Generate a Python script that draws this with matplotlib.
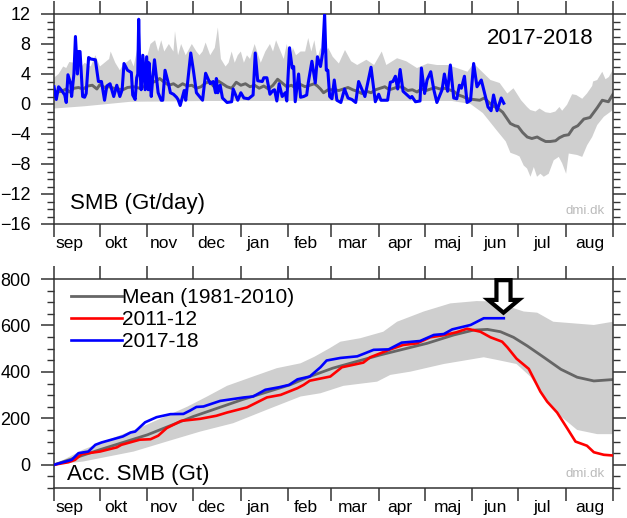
#!/usr/bin/env python3
"""Greenland surface mass balance, season 2017-18 (daily and accumulated)."""

import numpy as np
import matplotlib
matplotlib.use("Agg")
import matplotlib.pyplot as plt
from matplotlib.patches import Polygon
from matplotlib.ticker import MultipleLocator

plt.rcParams["font.family"] = ["Liberation Sans", "DejaVu Sans"]

MONTH_TICKS = [0, 30, 61, 91, 122, 153, 181, 212, 242, 273, 303, 334, 365]
MONTHS = ["sep", "okt", "nov", "dec", "jan", "feb", "mar", "apr", "maj", "jun", "jul", "aug"]

# --- daily SMB, values (day since 1 sep, Gt/day)
daily_blue_x = [0, 1.5, 3, 5, 7, 8, 9.1, 11, 11.5, 13, 14, 15.3, 16, 17, 18.7, 20, 21, 22.6, 24, 27, 29, 31, 33,
                34.5, 36.6, 39, 41, 43, 44.5, 45.7, 48, 50.5, 51.4, 53, 54, 54.7, 55.3, 56, 56.9, 58, 59.5, 60.5,
                61.5, 62, 63.5, 64.5, 65.6, 68, 70, 71, 72.5, 75, 76, 78, 80, 81, 82.4, 84, 85, 86, 89.3, 91,
                93, 95, 97, 99, 102, 104, 105.5, 106, 107, 108.5, 110, 113, 116, 117, 120, 122, 124, 127, 130,
                131.4, 133, 136, 137, 138, 139, 141, 143, 144, 145.5, 147, 149, 151, 152, 153.8, 155.5, 156.5,
                157.5, 159.7, 161, 163, 165, 166, 168.4, 170.6, 172, 174, 175.4, 176.7, 177.8, 178.8, 180, 181.5,
                183, 184.7, 187.3, 189.7, 192, 194.5, 197, 198.9, 203, 207, 209.8, 212, 213.5, 217.8, 219.6,
                221.3, 222.9, 224.4, 226, 227.9, 232.7, 233.7, 236, 239, 239.9, 242, 243.6, 246, 248, 250, 253.4,
                254.9, 257, 258.8, 261, 263, 264.7, 266, 268, 269.7, 272, 274, 276.2, 279, 280.6, 283.4, 285.4,
                287, 289.3, 292, 293.7]
daily_blue_y = [2.3, 0.6, 2.3, 1.8, 1.2, 0.2, 3.9, 2.6, 1.0, 4.0, 9.0, 4.0, 7.0, 7.0, 1.0, 0.9, 1.4, 6.2, 6.0, 5.9, 3.0, 3.0, 0.5,
                2.4, 2.7, 1.0, 2.5, 1.0, 1.9, 5.4, 4.5, 4.2, 1.2, 0.6, 3.5, 4.0, 11.3, 5.0, 1.9, 6.5, 1.9, 6.3,
                1.9, 5.5, 1.0, 3.5, 5.9, 1.5, 0.5, 0.5, 4.5, 2.5, 1.5, 1.3, 0.9, 0.6, -0.2, 1.0, 1.8, 0.5, 6.8, 4.5,
                1.5, 1.0, 0.5, 4.1, 2.7, 3.0, 1.5, 3.4, 1.5, 2.5, 0.8, 0.2, 0.3, 2.0, 0.5, 1.5, 0.8, 0.7, 1.2,
                6.8, 3.1, 3.0, 3.5, 3.5, 3.5, 1.3, 1.8, 1.9, 0.4, 2.7, 1.0, 1.5, 0.4, 7.5, 4.8, 5.0,
                0.3, 4.0, 0.9, 1.0, 1.2, 2.8, 5.7, 2.8, 6.3, 5.0, 6.8, 12.0, 4.5, 4.5, 1.0, 0.7,
                3.2, 0.5, 0.2, 2.0, 0.8, 0.6, 0.2, 3.0, 1.0, 4.9, 0.3, 1.3, 0.5, 0.5, 2.9,
                3.0, 3.7, 2.0, 4.6, 1.7, 0.8, 1.0, 0.3, 0.4, 4.8, 1.4, 3.2, 4.3, 1.9, 0.2, 1.9,
                4.0, 1.7, 5.2, 0.8, 0.7, 2.5, 2.1, 3.7, 0.2, 0.5, 5.4, 2.3, 3.2, 1.9, -0.4, -0.9,
                1.2, -0.9, 0.8, 0.1]

daily_mean_x = [0, 5, 8, 10, 13, 16, 19, 22, 25, 28, 30, 33, 36, 39, 42, 45, 48, 52, 56, 60, 63, 66, 69, 72, 75, 78, 81,
                84, 87, 90, 93, 96, 99, 102, 104, 107, 110, 113, 116, 119, 122, 125, 128, 131, 134, 137, 140, 143,
                146, 149, 152, 155, 158, 161, 164, 167, 170, 172, 174, 176, 179, 183, 186, 189, 192, 195, 198, 201,
                204, 207, 210, 213, 216, 219, 222, 225, 228, 231, 234, 237, 240, 243, 246, 249, 252, 255, 258, 261,
                264, 267, 270, 274, 278, 281, 284, 287, 290, 293, 296, 298, 301, 303, 306, 309, 312, 315.5, 318,
                321, 324, 327.5, 330, 333, 336, 339, 342, 346, 350, 354.7, 358, 362, 365]
daily_mean_y = [1.5, 1.7, 2.0, 1.6, 2.1, 2.2, 2.0, 2.4, 2.5, 2.0, 2.6, 2.2, 2.3, 2.1, 2.0, 1.9, 2.2, 2.3, 2.1, 2.4, 2.8, 3.0, 3.4, 2.9, 2.5, 2.7, 2.3,
                2.7, 2.4, 2.5, 2.1, 2.3, 2.8, 3.0, 2.4, 3.1, 2.7, 2.3, 2.1, 2.9, 2.5, 2.7, 2.3, 2.5, 2.1, 2.4, 2.0, 2.5,
                3.3, 2.8, 2.3, 2.5, 2.1, 2.6, 2.3, 2.5, 2.7, 2.4, 2.0, 1.5, 1.9, 1.9, 1.8, 2.0, 2.2, 1.9, 1.7, 1.4,
                1.7, 1.5, 1.9, 2.1, 2.3, 1.9, 2.1, 2.3, 2.2, 1.8, 1.9, 1.6, 2.0, 1.8, 2.0, 2.2, 2.0, 2.1, 1.9, 1.7,
                1.2, 1.0, 0.7, 0.6, 0.5, 0.8, 0.2, -0.3, -0.6, -1.1, -2.0, -2.6, -2.9, -3.0, -3.8, -4.4, -4.6, -4.4, -4.7,
                -5.0, -5.0, -4.9, -4.5, -4.2, -4.1, -3.2, -2.9, -2.0, -1.8, -0.5, 0.5, 0.3, 1.3]

daily_upper_x = [0, 3, 6, 8, 10, 13, 15, 18, 20, 24, 27, 30, 33, 36, 37, 40, 43, 45, 47, 50, 52, 55, 58, 61, 63, 66, 68,
                 70, 72, 75, 78, 79, 81, 83, 86, 90, 93, 95, 97, 99, 102, 105, 107, 109, 112, 114, 116, 118, 120, 122,
                 124, 126, 128, 131, 135, 138, 141, 143, 145, 147, 150, 152, 154, 156, 158, 161, 164, 166, 168, 170,
                 172, 174, 176, 179, 182, 186, 190, 194, 198, 204, 209, 214, 217, 224, 230, 237, 244, 250, 257, 263,
                 270, 274, 278, 285, 291, 296, 300, 305, 308.9, 311, 314.4, 317, 320.9, 324, 327.4, 330, 331.8, 335,
                 338.3, 341, 344.9, 348, 351.4, 352, 354.7, 358, 360.1, 362.3, 365]
daily_upper_y = [3.5, 4.0, 5.0, 4.8, 5.6, 5.5, 6.0, 5.0, 5.5, 5.0, 6.5, 5.0, 5.5, 6.0, 7.0, 5.5, 4.5, 5.2, 5.5, 6.0, 5.0, 8.0, 6.0, 6.5, 8.0, 8.5, 7.0,
                 8.5, 7.0, 8.0, 7.0, 9.7, 6.5, 8.0, 6.5, 8.0, 7.0, 6.5, 7.0, 8.2, 6.5, 7.5, 10.2, 6.0, 5.0, 5.5, 7.0, 5.5, 6.5, 7.0,
                 5.5, 6.5, 6.0, 8.0, 5.5, 7.0, 8.0, 7.0, 8.5, 7.5, 6.0, 8.0, 6.0, 7.5, 6.5, 7.0, 7.0, 8.8, 7.0, 8.5,
                 6.0, 7.5, 6.3, 7.5, 6.3, 5.4, 7.2, 5.7, 5.2, 5.9, 5.2, 7.0, 5.2, 6.1, 5.7, 4.8, 5.4, 5.2, 5.2, 4.8,
                 4.3, 5.4, 4.6, 3.2, 2.8, 1.4, 2.1, 0.5, -0.4, -0.8, -1.0, -0.6, -1.1, -1.2, -1.0, -0.4, -0.9, -0.1,
                 1.3, 1.2, 0.7, 1.4, 2.4, 3.0, 3.2, 4.3, 3.3, 3.6, 4.6]
daily_lower_x = [0, 20, 50, 100, 170, 260, 272, 280, 289, 295, 298, 302, 304, 306.7, 308.9, 311.1, 313.3, 315.4, 317.6,
                 319.8, 323, 326.3, 329.6, 331.8, 334.4, 336.1, 341.6, 344.9, 348.1, 351.4, 354.7, 359, 365]
daily_lower_y = [-0.6, -0.3, 0.3, 0.4, 0.4, 0.4, 0.0, -1.2, -3.5, -5.0, -6.5, -6.8, -7.0, -8.2, -8.6, -9.7, -8.4, -9.7, -9.3,
                 -9.7, -9.3, -7.5, -7.05, -7.9, -9.3, -6.6, -6.8, -7.05, -5.5, -4.4, -2.8, -1.7, -0.8]

# --- accumulated SMB (Gt)
acc_mean_x = [0, 30, 61, 91, 122.7, 154, 167, 182, 213, 243.6, 261, 274, 283, 291.5, 300, 309, 320, 331, 341.6, 352.5, 365]
acc_mean_y = [0, 65, 129, 208, 280, 344, 380, 416, 473, 523, 559, 580, 583, 573, 549, 512, 462, 411, 377, 361, 367]

acc_red_x = [0, 9.4, 13.7, 18, 30, 41, 44, 56, 63, 68, 73.6, 80, 83, 95.5, 106, 113, 126, 139, 148, 159, 163, 167,
             180.4, 188, 202, 206.5, 219.6, 228, 237, 245.7, 254.5, 263, 269.7, 278.4, 285, 292.6, 296, 302, 310,
             317.6, 322, 328.5, 335, 340.5, 348, 352.5, 359, 365]
acc_red_y = [0, 11, 21, 46, 57, 75, 86, 108, 110, 125, 158, 179, 189, 198, 211, 225, 247, 290, 301, 330, 344, 362,
             380, 420, 440, 463, 497, 516, 523, 549, 558, 571, 586, 573, 549, 530, 506, 457, 413,
             315, 272, 225, 158, 100, 82, 54, 43, 40]

acc_blue_x = [0, 11.5, 16, 22.4, 27, 31, 45, 50, 53, 59.5, 67, 76, 84.5, 89, 93, 97.6, 108.5, 124, 130, 138, 147, 153.5,
              159, 167, 174, 178, 187, 198, 203, 208.7, 218.5, 227, 239, 248, 254.5, 260, 272, 280.6, 293.7]
acc_blue_y = [0, 21, 50, 57, 86, 96, 122, 139, 143, 183, 205, 218, 219, 234, 249, 251, 275, 290, 294, 323, 334, 344,
              368, 380, 420, 449, 460, 467, 480, 495, 497, 526, 533, 559, 563, 583, 602, 631, 631]

acc_upper_x = [0, 19, 58, 87, 100, 113, 130, 145.5, 161, 170, 180, 187, 200, 215, 224, 241.4, 258.8, 276, 287, 306.7,
               315.5, 326, 352.5, 365]
acc_upper_y = [0, 65, 165, 250, 294, 340, 380, 416, 437, 465, 502, 530, 545, 573, 616, 660, 695, 705, 703, 660,
               655, 616, 602, 616]
acc_lower_x = [0, 19, 52, 73.6, 95.5, 117, 139, 161, 174, 189, 211, 219.6, 232.7, 254.5, 280.6, 289, 302, 311, 320, 331,
               341.6, 354.7, 365]
acc_lower_y = [0, 14, 57, 100, 143, 179, 237, 294, 308, 340, 358, 387, 401, 434, 463, 452, 434, 380, 294, 208,
               150, 132, 132]

W, H = 627, 518
BAND = "#cfcfcf"
MEAN = "#666666"
BLUE = "#0000ff"
RED = "#ff0000"
AXIS = "#333333"
PX = 0.72  # one pixel in points at dpi 100


def panel_axes(fig, top_px, bottom_px):
    ax = fig.add_axes([54 / W, 1 - bottom_px / H, (613 - 54) / W, (bottom_px - top_px) / H])
    ax.set_xlim(0, 365)
    ax.set_xticks(MONTH_TICKS)
    ax.set_xticklabels([])
    # month names sit at even steps, not at the middle of each month
    ax.set_xticks(9.8 + 30.9 * np.arange(12), MONTHS, minor=True)
    ax.tick_params(axis="x", which="major", top=True, bottom=True, direction="out",
                   length=13 * PX, width=1.1, color=AXIS)
    ax.tick_params(axis="x", which="minor", top=False, bottom=False, length=0, pad=13 * PX - 1,
                   labelsize=12.5)
    ax.tick_params(axis="y", which="major", left=True, right=True, direction="out",
                   length=13 * PX, width=1.1, color=AXIS, labelsize=13, pad=7.5)
    ax.tick_params(axis="y", which="minor", left=True, right=True, direction="out",
                   length=7 * PX, width=1.0, color=AXIS)
    for spine in ax.spines.values():
        spine.set_color(AXIS)
        spine.set_linewidth(1.1)
    return ax


def band(ax, up_x, up_y, lo_x, lo_y):
    xs = np.r_[up_x, lo_x[::-1]]
    ys = np.r_[up_y, lo_y[::-1]]
    ax.fill(xs, ys, color=BAND, lw=0, zorder=1)


def main():
    fig = plt.figure(figsize=(W / 100, H / 100), dpi=100)

    # Daily panel
    ax = panel_axes(fig, 14, 224)
    ax.set_ylim(-16, 12)
    ax.set_yticks(np.arange(-16, 13, 4))
    ax.yaxis.set_minor_locator(MultipleLocator(1))
    band(ax, daily_upper_x, daily_upper_y, daily_lower_x, daily_lower_y)
    ax.plot(daily_mean_x, daily_mean_y, color=MEAN, lw=2.1, zorder=2)
    ax.plot(daily_blue_x, daily_blue_y, color=BLUE, lw=2.2, zorder=3)
    ax.text(0.966, 0.884, "2017-2018", transform=ax.transAxes, ha="right", va="center", fontsize=16)
    ax.text(0.029, 0.1, "SMB (Gt/day)", transform=ax.transAxes, ha="left", va="center", fontsize=16)
    ax.text(0.986, 0.062, "dmi.dk", transform=ax.transAxes, ha="right", va="center", fontsize=9.6, color="#bbbbbb")

    # Accumulated panel
    ax = panel_axes(fig, 279, 488)
    ax.set_ylim(-100, 800)
    ax.set_yticks(np.arange(0, 801, 200))
    ax.yaxis.set_minor_locator(MultipleLocator(50))
    band(ax, acc_upper_x, acc_upper_y, acc_lower_x, acc_lower_y)
    ax.plot(acc_mean_x, acc_mean_y, color=MEAN, lw=2.0, zorder=2, label="Mean (1981-2010)")
    ax.plot(acc_red_x, acc_red_y, color=RED, lw=1.9, zorder=3, label="2011-12")
    ax.plot(acc_blue_x, acc_blue_y, color=BLUE, lw=1.9, zorder=4, label="2017-18")
    ax.legend(loc="upper left", bbox_to_anchor=(0.03, 0.955), frameon=False, fontsize=15, borderpad=0,
              borderaxespad=0, labelspacing=0.13, handlelength=2.45, handletextpad=0.02)
    ax.text(0.023, 0.066, "Acc. SMB (Gt)", transform=ax.transAxes, ha="left", va="center", fontsize=16)
    ax.text(0.986, 0.066, "dmi.dk", transform=ax.transAxes, ha="right", va="center", fontsize=9.6, color="#bbbbbb")

    # Arrow marking the current date
    tip_x, tip_y = 293.5, 655
    outline = [(tip_x, tip_y), (tip_x + 10, tip_y + 55), (tip_x + 4.6, tip_y + 55), (tip_x + 4.6, tip_y + 140),
               (tip_x - 4.6, tip_y + 140), (tip_x - 4.6, tip_y + 55), (tip_x - 10, tip_y + 55)]
    ax.add_patch(Polygon(outline, closed=True, facecolor="white", edgecolor="black", lw=3.0,
                         joinstyle="miter", clip_on=False, zorder=6))

    fig.savefig("out.png", dpi=100)
    plt.close(fig)


if __name__ == "__main__":
    main()
